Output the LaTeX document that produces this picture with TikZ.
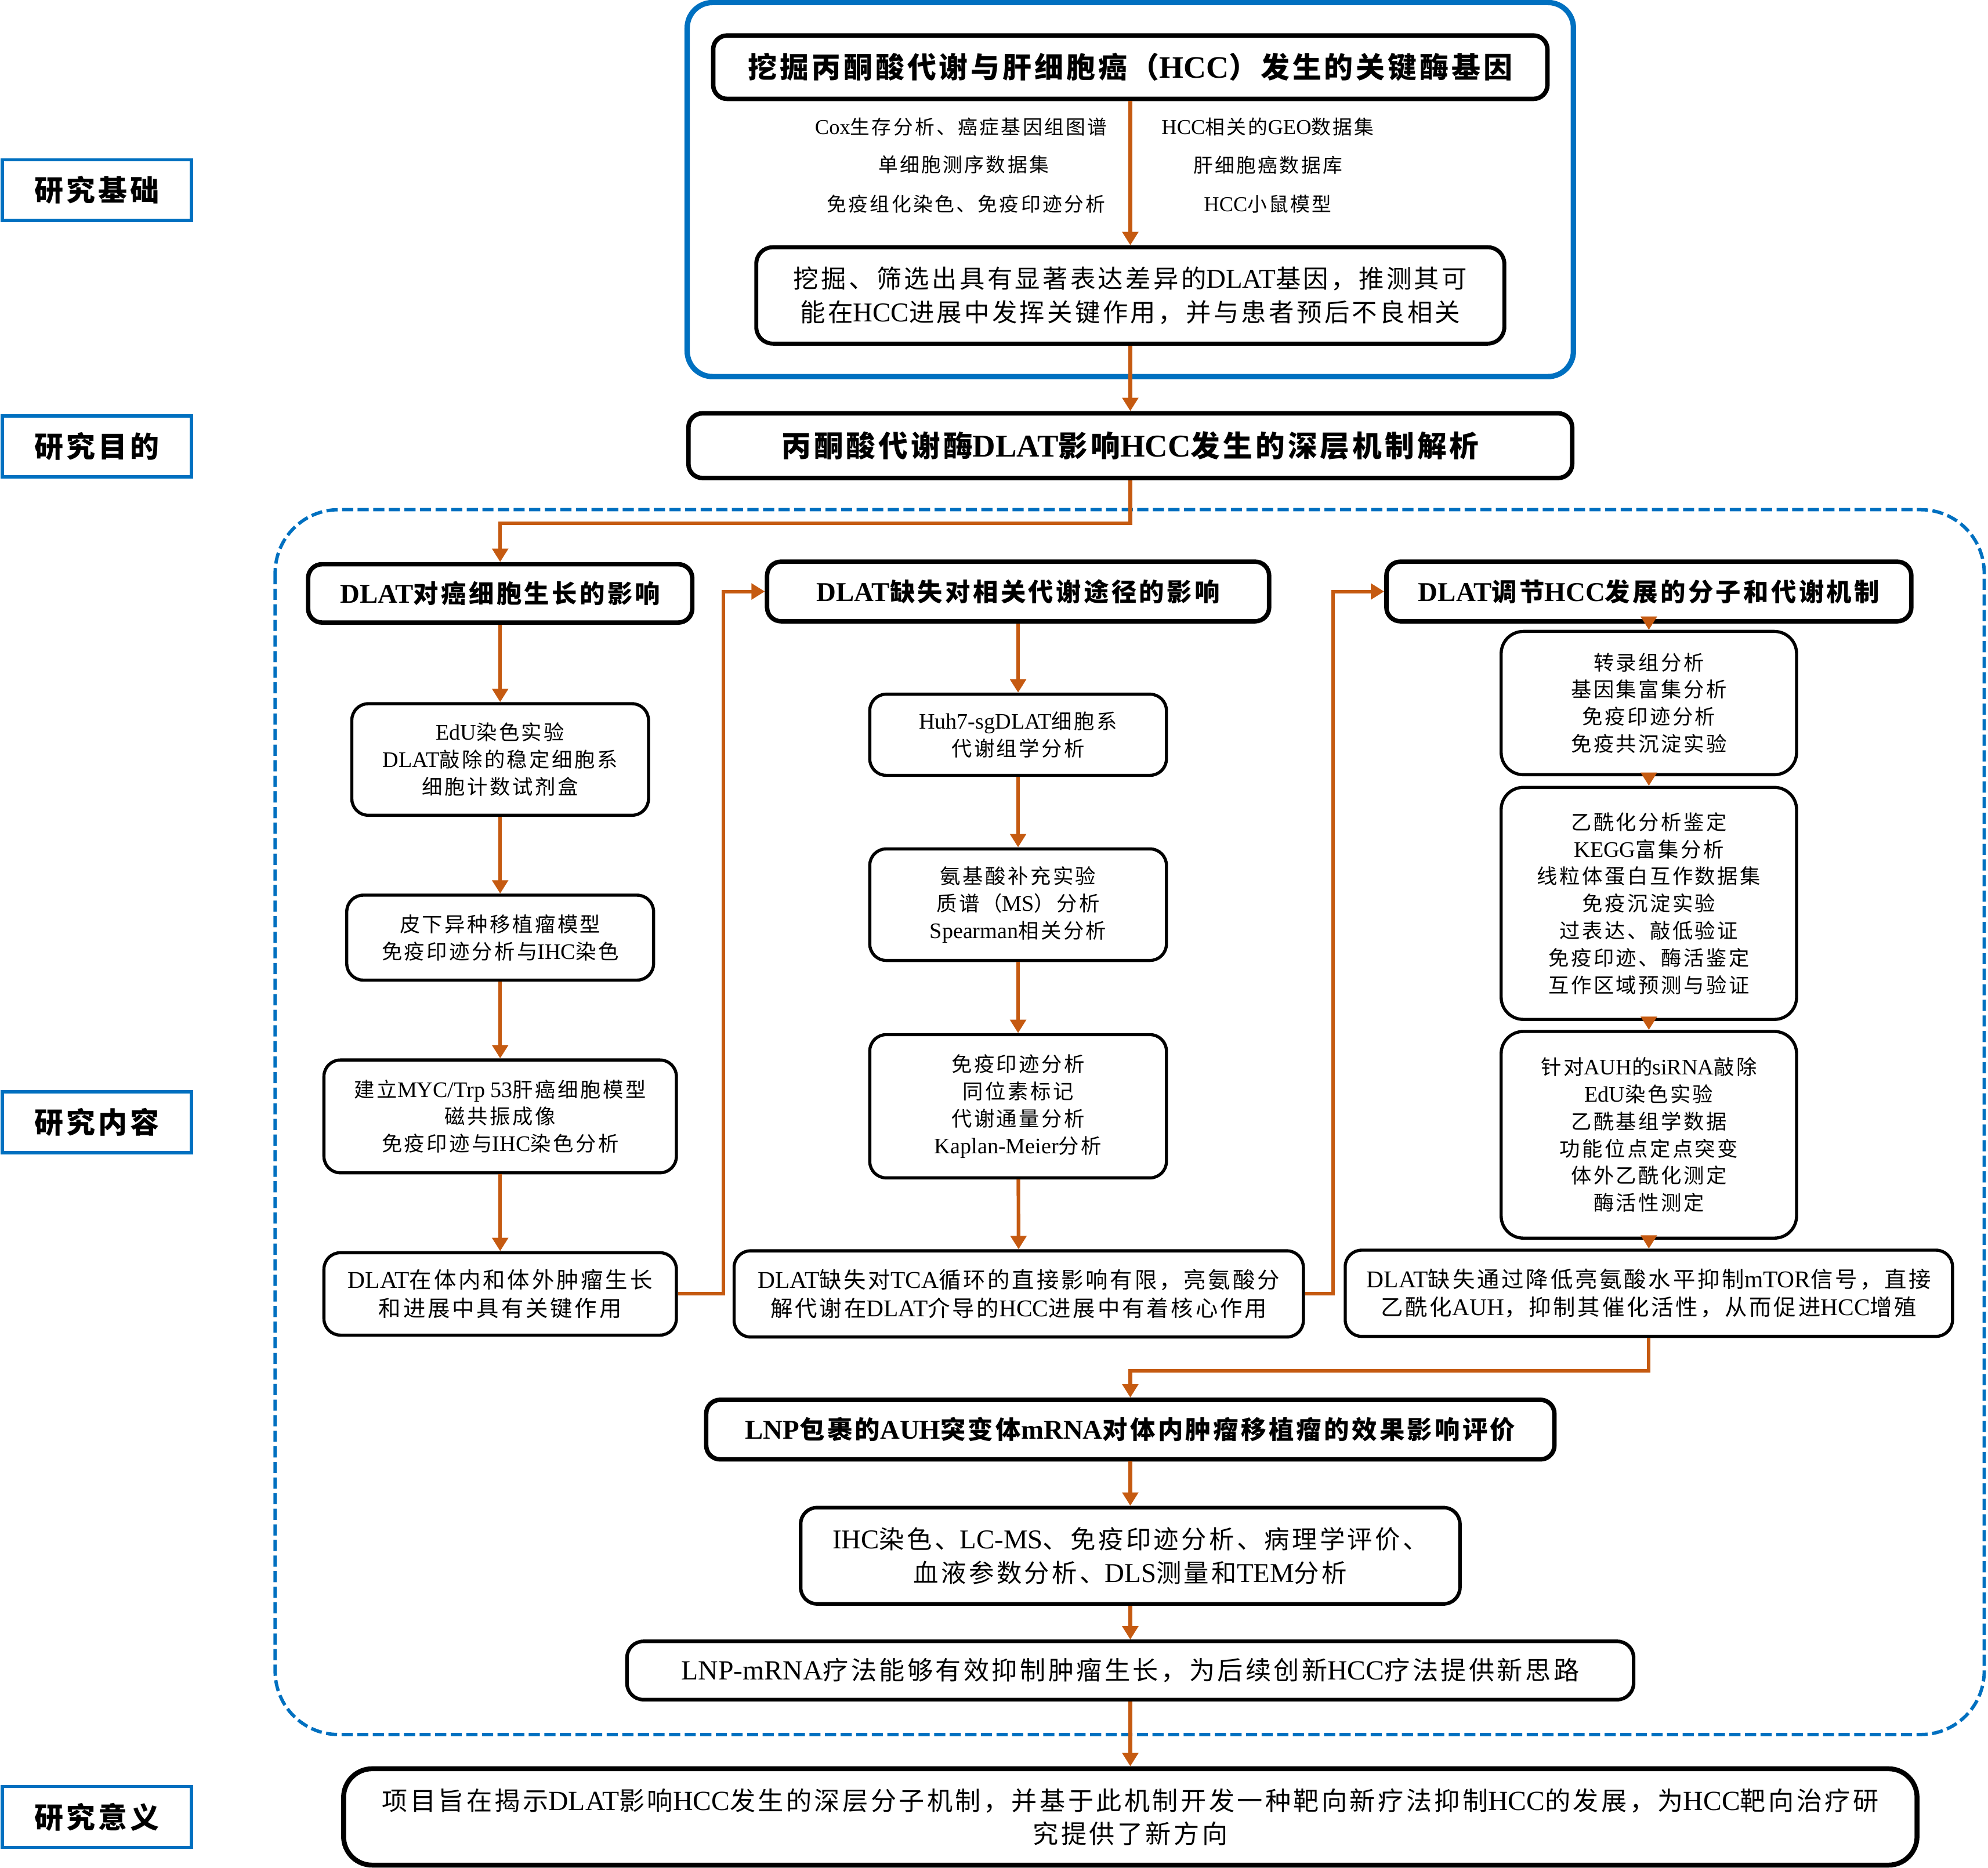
\documentclass[tikz,border=0pt]{standalone}
\usepackage{fontspec}
\setmainfont{Liberation Serif}[Scale=1.08]
\newfontfamily\cjk{Noto Sans CJK SC}
\usetikzlibrary{arrows.meta}

% CJK characters pick their own font
\newXeTeXintercharclass\cjkclass
\newcount\cjkcode
\def\cjkrange#1#2{\cjkcode=#1 \loop\XeTeXcharclass\cjkcode=\cjkclass
  \advance\cjkcode by 1 \ifnum\cjkcode<#2 \repeat}
\cjkrange{"3000}{"3040}
\cjkrange{"4E00}{"A000}
\cjkrange{"FF00}{"FFF0}
\XeTeXinterchartoks 0 \cjkclass = {\cjk}
\XeTeXinterchartoks 4095 \cjkclass = {\cjk}
\XeTeXinterchartoks \cjkclass 0 = {\rmfamily}
\XeTeXinterchartoks 4095 0 = {\rmfamily}
\XeTeXinterchartoks \cjkclass \cjkclass = {\hskip 0.1em\relax}
\XeTeXinterchartokenstate=1

\definecolor{arrowbrown}{RGB}{197,90,17}
\definecolor{frameblue}{RGB}{0,112,192}

\tikzset{
  sz/.style 2 args={minimum width=#1*0.02cm, minimum height=#2*0.02cm},
  tag/.style={draw=frameblue, line width=1.5pt, inner sep=0pt, sz={149}{48},
    font=\bfseries\fontsize{13}{15}\selectfont},
  stepbox/.style={draw, line width=1.4pt, rounded corners=0.26cm, inner sep=0pt,
    align=center, font=\fontsize{9.2}{12.2}\selectfont},
  headbox/.style={draw, line width=2pt, rounded corners=0.22cm, inner sep=0pt,
    align=center, font=\bfseries\fontsize{11.3}{14}\selectfont},
  resultbox/.style={stepbox, font=\fontsize{10}{12.6}\selectfont},
  widebox/.style={stepbox, line width=1.8pt, font=\fontsize{11.5}{15}\selectfont},
  note/.style={inner sep=0pt, font=\fontsize{8.8}{10}\selectfont},
  arr/.style={draw=arrowbrown, line width=1.6pt, -{Triangle[length=6pt,width=7pt]}},
}

\begin{document}
\begin{tikzpicture}[x=0.02cm, y=-0.02cm]
  \useasboundingbox (0,0) rectangle (1568,1473);

  % Frames
  \draw[frameblue, line width=2.4pt, rounded corners=0.4cm] (542,2) rectangle (1241,297);
  \draw[frameblue, line width=1.5pt, dash pattern=on 5pt off 2pt, rounded corners=1cm]
    (217,402) rectangle (1565,1368);

  % Side tags
  \node[tag] (tagbase) at (76.5,150) {研究基础};
  \node[tag] (tagaim) at (76.5,352) {研究目的};
  \node[tag] (tagcontent) at (76.5,885) {研究内容};
  \node[tag] (tagmeaning) at (76.5,1433) {研究意义};

  % Basis
  \node[headbox, sz={658}{50}, font=\bfseries\fontsize{13}{16}\selectfont] (mine) at (891.5,53)
    {挖掘丙酮酸代谢与肝细胞癌（HCC）发生的关键酶基因};
  \node[widebox, sz={590}{76}, font=\fontsize{11.3}{15}\selectfont] (screen) at (891.5,233)
    {挖掘、筛选出具有显著表达差异的DLAT基因，推测其可\\能在HCC进展中发挥关键作用，并与患者预后不良相关};
  \node[note] (cox) at (758,100) {Cox生存分析、癌症基因组图谱};
  \node[note] (single) at (760,130) {单细胞测序数据集};
  \node[note] (ihc) at (762,161) {免疫组化染色、免疫印迹分析};
  \node[note] (geo) at (1000,100) {HCC相关的GEO数据集};
  \node[note] (hccdb) at (1000,130) {肝细胞癌数据库};
  \node[note] (mouse) at (1000,161) {HCC小鼠模型};

  % Aim
  \node[headbox, sz={697}{51}, font=\bfseries\fontsize{13.2}{16}\selectfont] (aim) at (891.5,351.5)
    {丙酮酸代谢酶DLAT影响HCC发生的深层机制解析};

  % Left column
  \node[headbox, sz={303}{46}] (growth) at (394.5,468) {DLAT对癌细胞生长的影响};
  \node[stepbox, sz={234}{88}] (edu) at (394.5,599) {EdU染色实验\\DLAT敲除的稳定细胞系\\细胞计数试剂盒};
  \node[stepbox, sz={242}{67}] (xeno) at (394.5,739.5) {皮下异种移植瘤模型\\免疫印迹分析与IHC染色};
  \node[stepbox, sz={278}{89}] (myc) at (394.5,880.5) {建立MYC/Trp 53肝癌细胞模型\\磁共振成像\\免疫印迹与IHC染色分析};
  \node[resultbox, sz={278}{65}] (growthres) at (394.5,1020.5) {DLAT在体内和体外肿瘤生长\\和进展中具有关键作用};

  % Middle column
  \node[headbox, sz={396}{47}] (metab) at (803,466.5) {DLAT缺失对相关代谢途径的影响};
  \node[stepbox, sz={234}{64}] (huh) at (803,579.5) {Huh7-sgDLAT细胞系\\代谢组学分析};
  \node[stepbox, sz={234}{88}] (amino) at (803,713.5) {氨基酸补充实验\\质谱（MS）分析\\Spearman相关分析};
  \node[stepbox, sz={234}{113}] (flux) at (803,872.5) {免疫印迹分析\\同位素标记\\代谢通量分析\\Kaplan-Meier分析};
  \node[resultbox, sz={449}{68}] (metabres) at (803.5,1020.5)
    {DLAT缺失对TCA循环的直接影响有限，亮氨酸分\\解代谢在DLAT介导的HCC进展中有着核心作用};

  % Right column
  \node[headbox, sz={414}{47}] (mech) at (1300.5,466.5) {DLAT调节HCC发展的分子和代谢机制};
  \node[stepbox, sz={233}{113}, rounded corners=0.35cm] (trans) at (1300.5,554.5)
    {转录组分析\\基因集富集分析\\免疫印迹分析\\免疫共沉淀实验};
  \node[stepbox, sz={233}{183}, rounded corners=0.35cm] (acet) at (1300.5,712.5)
    {乙酰化分析鉴定\\KEGG富集分析\\线粒体蛋白互作数据集\\免疫沉淀实验\\过表达、敲低验证\\免疫印迹、酶活鉴定\\互作区域预测与验证};
  \node[stepbox, sz={233}{163}, rounded corners=0.35cm] (auh) at (1300.5,895)
    {针对AUH的siRNA敲除\\EdU染色实验\\乙酰基组学数据\\功能位点定点突变\\体外乙酰化测定\\酶活性测定};
  \node[resultbox, sz={479}{68}] (mechres) at (1300.5,1020)
    {DLAT缺失通过降低亮氨酸水平抑制mTOR信号，直接\\乙酰化AUH，抑制其催化活性，从而促进HCC增殖};

  % Therapy
  \node[headbox, sz={669}{47}] (lnp) at (891.5,1127.5) {LNP包裹的AUH突变体mRNA对体内肿瘤移植瘤的效果影响评价};
  \node[widebox, sz={520}{76}, line width=1.6pt, font=\fontsize{11.3}{15}\selectfont] (assay) at (891.5,1227)
    {IHC染色、LC-MS、免疫印迹分析、病理学评价、\\血液参数分析、DLS测量和TEM分析};
  \node[widebox, sz={794}{46}, line width=1.6pt] (lnpres) at (891.5,1317.5)
    {LNP-mRNA疗法能够有效抑制肿瘤生长，为后续创新HCC疗法提供新思路};

  % Meaning
  \node[widebox, sz={1241}{76}, line width=2.2pt, rounded corners=0.45cm] (meaning) at (891.5,1433)
    {项目旨在揭示DLAT影响HCC发生的深层分子机制，并基于此机制开发一种靶向新疗法抑制HCC的发展，为HCC靶向治疗研\\究提供了新方向};

  % Arrows
  \draw[arr] (mine) -- (screen);
  \draw[arr] (screen) -- (aim);
  \draw[arr] (aim.south) -- ++(0,34) -| (growth.north);
  \draw[arr] (growth) -- (edu);
  \draw[arr] (edu) -- (xeno);
  \draw[arr] (xeno) -- (myc);
  \draw[arr] (myc) -- (growthres);
  \draw[arr] (growthres.east) -- ++(36,0) |- (metab.west);
  \draw[arr] (metab) -- (huh);
  \draw[arr] (huh) -- (amino);
  \draw[arr] (amino) -- (flux);
  \draw[arr] (flux) -- (metabres);
  \draw[arr] (metabres.east) -- ++(22,0) |- (mech.west);
  \draw[arr] (mech) -- (trans);
  \draw[arr] (trans) -- (acet);
  \draw[arr] (acet) -- (auh);
  \draw[arr] (auh) -- (mechres);
  \draw[arr] (mechres.south) -- ++(0,26) -| (lnp.north);
  \draw[arr] (lnp) -- (assay);
  \draw[arr] (assay) -- (lnpres);
  \draw[arr] (lnpres) -- (meaning);
\end{tikzpicture}
\end{document}
